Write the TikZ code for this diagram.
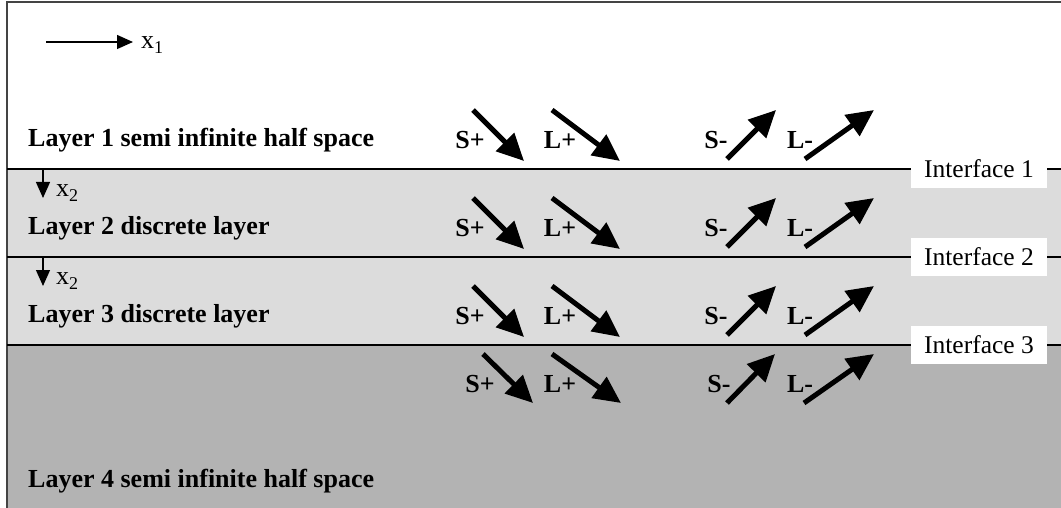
\documentclass[tikz,border=0pt]{standalone}
\usepackage{fontspec}
\setmainfont{Liberation Serif}
\usetikzlibrary{arrows.meta}
\definecolor{lightlayer}{HTML}{DCDCDC}
\definecolor{darklayer}{HTML}{B3B3B3}
\definecolor{framegray}{HTML}{444444}
\newcommand{\subx}[1]{x\raisebox{-0.45ex}{\fontsize{18}{18}\selectfont #1}}
\begin{document}
\begin{tikzpicture}[x=1pt,y=-1pt,
  layertext/.style={anchor=west,font=\fontsize{26}{30}\selectfont\bfseries,inner sep=0pt},
  wavelabel/.style={font=\fontsize{26}{30}\selectfont\bfseries,inner sep=0pt},
  ifacebox/.style={fill=white,minimum width=136pt,minimum height=38pt,inner sep=0pt,font=\fontsize{25.5}{30}\selectfont},
  axislabel/.style={anchor=west,font=\fontsize{26}{30}\selectfont,inner sep=0pt},
  wavearrow/.style={line width=5pt,-{Triangle[length=27pt,width=25pt]}},
  axisarrow/.style={line width=1.3pt,-{Triangle[length=16pt,width=14pt]}},
  iline/.style={line width=1.3pt}]
\useasboundingbox (0,0) rectangle (1061,508);
% layers
\fill[white] (0,0) rectangle (1061,169);
\fill[lightlayer] (7,169) rectangle (1061,345);
\fill[darklayer] (7,345) rectangle (1061,508);
% frame
\draw[framegray,line width=1.5pt] (1061,2) -- (7,2) -- (7,508);
% interfaces
\coordinate (i1l) at (7,169); \coordinate (i1r) at (1061,169);
\coordinate (i2l) at (7,257); \coordinate (i2r) at (1061,257);
\coordinate (i3l) at (7,345); \coordinate (i3r) at (1061,345);
\draw[iline] (i1l) -- (i1r);
\draw[iline] (i2l) -- (i2r);
\draw[iline] (i3l) -- (i3r);
\node[ifacebox] (if1) at (979,169) {Interface 1};
\node[ifacebox] (if2) at (979,257) {Interface 2};
\node[ifacebox] (if3) at (979,345) {Interface 3};
% x1 axis
\coordinate (x1a) at (46,42); \coordinate (x1b) at (133,42);
\draw[axisarrow] (x1a) -- (x1b);
\node[axislabel] (x1lab) at (141,45) {\subx{1}};
% x2 axes
\foreach \i/\yy in {2/169,3/257}{
  \coordinate (x2a\i) at (43,\yy);
  \coordinate (x2b\i) at (43,\yy+29);
  \draw[axisarrow] (x2a\i) -- (x2b\i);
  \node[axislabel] (x2lab\i) at (56,\yy+24) {\subx{2}};
}
% layer labels
\node[layertext] (lay1) at (28,140) {Layer 1 semi infinite half space};
\node[layertext] (lay2) at (28,228) {Layer 2 discrete layer};
\node[layertext] (lay3) at (28,316) {Layer 3 discrete layer};
\node[layertext] (lay4) at (28,481) {Layer 4 semi infinite half space};
% waves in layers 1-3
\foreach \i/\dy in {1/0,2/88,3/176}{
  \node[wavelabel] (sp\i) at (470,140+\dy) {S+};
  \node[wavelabel] (lp\i) at (560,140+\dy) {L+};
  \node[wavelabel] (sm\i) at (716,140+\dy) {S-};
  \node[wavelabel] (lm\i) at (800,140+\dy) {L-};
  \coordinate (spa\i) at (473,110+\dy); \coordinate (spb\i) at (524,161+\dy);
  \coordinate (lpa\i) at (552,110+\dy); \coordinate (lpb\i) at (620,161+\dy);
  \coordinate (sma\i) at (727,159+\dy); \coordinate (smb\i) at (776,110+\dy);
  \coordinate (lma\i) at (805,159+\dy); \coordinate (lmb\i) at (874,110+\dy);
  \draw[wavearrow] (spa\i) -- (spb\i);
  \draw[wavearrow] (lpa\i) -- (lpb\i);
  \draw[wavearrow] (sma\i) -- (smb\i);
  \draw[wavearrow] (lma\i) -- (lmb\i);
}
% waves in layer 4
\node[wavelabel] (sp4) at (480,384) {S+};
\node[wavelabel] (lp4) at (560,384) {L+};
\node[wavelabel] (sm4) at (719,384) {S-};
\node[wavelabel] (lm4) at (800,384) {L-};
\coordinate (spa4) at (483,354); \coordinate (spb4) at (533,403);
\coordinate (lpa4) at (552,354); \coordinate (lpb4) at (621,403);
\coordinate (sma4) at (727,403); \coordinate (smb4) at (775,354);
\coordinate (lma4) at (804,403); \coordinate (lmb4) at (874,354);
\draw[wavearrow] (spa4) -- (spb4);
\draw[wavearrow] (lpa4) -- (lpb4);
\draw[wavearrow] (sma4) -- (smb4);
\draw[wavearrow] (lma4) -- (lmb4);
\end{tikzpicture}
\end{document}
